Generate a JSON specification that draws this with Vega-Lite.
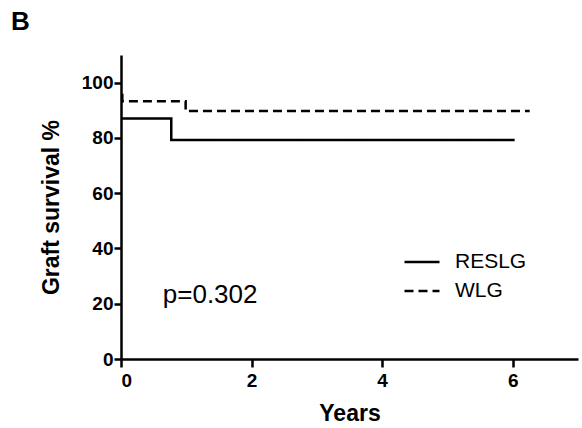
{
  "$schema": "https://vega.github.io/schema/vega-lite/v6.json",
  "width": 457,
  "height": 304,
  "autosize": "none",
  "padding": {"left": 121, "top": 55, "right": 4, "bottom": 69},
  "background": "white",
  "title": {"text": "B", "anchor": "start", "frame": "group", "dx": -110, "dy": -16, "fontSize": 26, "font": "Liberation Sans", "fontWeight": "bold", "color": "black"},
  "config": {
    "view": {"stroke": null},
    "font": "Liberation Sans",
    "axis": {"grid": false, "domainColor": "black", "domainWidth": 2.5, "tickColor": "black", "tickWidth": 2.5, "tickSize": 8, "labelFont": "Liberation Sans", "labelFontWeight": "bold", "labelFontSize": 19, "labelColor": "black", "titleFont": "Liberation Sans", "titleFontWeight": "bold", "titleFontSize": 23, "titleColor": "black"}
  },
  "datasets": {
    "curves": [
      {"years": 0, "survival": 87, "group": "RESLG"},
      {"years": 0.77, "survival": 79.2, "group": "RESLG"},
      {"years": 6.03, "survival": 79.2, "group": "RESLG"},
      {"years": 0, "survival": 95.5, "group": "WLG"},
      {"years": 0.02, "survival": 93.3, "group": "WLG"},
      {"years": 0.99, "survival": 89.7, "group": "WLG"},
      {"years": 6.26, "survival": 89.7, "group": "WLG"}
    ],
    "pvalue": [{"years": 0.64, "survival": 23, "label": "p=0.302"}]
  },
  "layer": [
    {
      "data": {"name": "curves"},
      "mark": {"type": "line", "interpolate": "step-after", "color": "black", "strokeWidth": 2.5},
      "encoding": {
        "x": {"field": "years", "type": "quantitative", "scale": {"domain": [0, 7], "nice": false}, "axis": {"values": [0, 2, 4, 6], "format": "d", "title": "Years", "labelPadding": 4, "titlePadding": 12}},
        "y": {"field": "survival", "type": "quantitative", "scale": {"domain": [0, 110], "nice": false}, "axis": {"values": [0, 20, 40, 60, 80, 100], "format": "d", "title": "Graft survival %", "tickSize": 7, "labelPadding": 1, "titlePadding": 18}},
        "strokeDash": {"field": "group", "type": "nominal", "scale": {"domain": ["RESLG", "WLG"], "range": [[1, 0], [9, 5]]},
          "legend": {"title": null, "orient": "none", "legendX": 282, "legendY": 188, "symbolType": "stroke", "symbolSize": 1225, "symbolStrokeWidth": 2.5, "symbolStrokeColor": "black", "labelFontSize": 21, "labelFont": "Liberation Sans", "labelColor": "black", "labelOffset": 14, "rowPadding": -6}}
      }
    },
    {
      "data": {"name": "pvalue"},
      "mark": {"type": "text", "align": "left", "baseline": "middle", "fontSize": 26, "font": "Liberation Sans", "color": "black"},
      "encoding": {
        "x": {"field": "years", "type": "quantitative"},
        "y": {"field": "survival", "type": "quantitative"},
        "text": {"field": "label"}
      }
    }
  ]
}
